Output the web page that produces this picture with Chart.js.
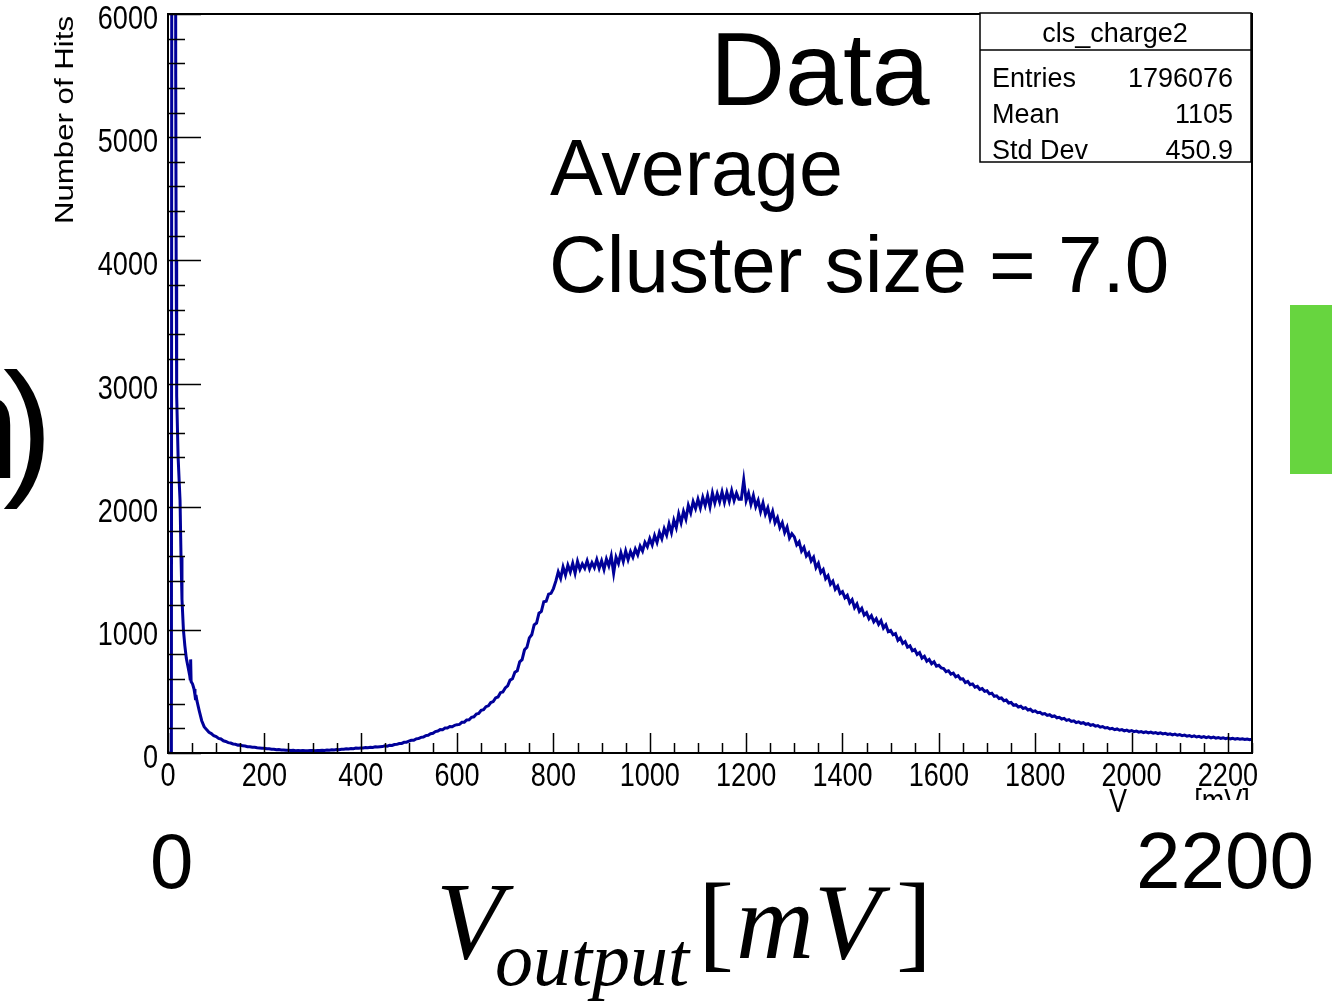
<!DOCTYPE html>
<html>
<head>
<meta charset="utf-8">
<script src="https://cdn.jsdelivr.net/npm/chart.js@4.4.1/dist/chart.umd.min.js"></script>
<style>
  html, body { margin: 0; padding: 0; background: #fff; }
  #plot { display: block; }
</style>
</head>
<body>
<canvas id="plot" width="1332" height="1008"></canvas>
<script>
// pedestal spike at the very start of the spectrum (irregular bin positions, mV)
const spikeMv   = [0, 7, 12, 16, 17, 18, 21, 25, 27, 29, 32, 35, 38, 42, 45, 46, 47, 48, 51, 54, 56, 57, 58]
const spikeHits = [0, 0, 40000, 5500, 4000, 2900, 2400, 2050, 1600, 1250, 1000, 870, 770, 690, 630, 600, 760, 580, 560, 520, 470, 440, 470]

// regular 5 mV bins from 60 mV on
const binStart = 60
const binWidth = 5
const binHits = [
  425, 340, 262, 214, 190, 168, 158, 140,
  // 100 mV
  133, 118, 114, 99, 94, 84, 81, 73, 71, 64, 65, 58, 57, 51, 50, 46, 46, 42, 41, 38,
  // 200 mV
  38, 34, 34, 30, 31, 27, 28, 24, 25, 22, 23, 20, 22, 19, 20, 18, 20, 18, 19, 20,
  // 300 mV
  20, 18, 21, 20, 23, 21, 25, 23, 27, 25, 29, 27, 31, 30, 34, 33, 37, 35, 40, 39,
  // 400 mV
  41, 40, 45, 43, 46, 45, 50, 48, 51, 52, 58, 55, 62, 61, 69, 70, 77, 78, 87, 88,
  // 500 mV
  96, 103, 104, 115, 117, 127, 130, 141, 144, 156, 160, 174, 178, 190, 189, 203, 203, 215, 213, 225,
  // 600 mV
  230, 232, 249, 250, 268, 270, 290, 294, 316, 321, 346, 351, 376, 383, 410, 418, 447, 455, 490, 496,
  // 700 mV
  528, 545, 592, 603, 655, 668, 740, 758, 838, 858, 935, 960, 1040, 1055, 1135, 1150, 1228, 1232, 1290, 1296,
  // 800 mV
  1335, 1395, 1470, 1418, 1510, 1445, 1525, 1470, 1540, 1460, 1555, 1490, 1535, 1500, 1560, 1495, 1545, 1505, 1570, 1500,
  // 900 mV
  1560, 1490, 1575, 1520, 1600, 1460, 1590, 1540, 1625, 1555, 1640, 1570, 1635, 1590, 1655, 1610, 1680, 1640, 1710, 1675,
  // 1000 mV
  1740, 1690, 1765, 1710, 1790, 1740, 1820, 1770, 1860, 1790, 1890, 1830, 1940, 1870, 1960, 1900, 2010, 1950, 2040, 1985,
  // 1100 mV
  2060, 1990, 2075, 2010, 2090, 2000, 2110, 2030, 2105, 2040, 2120, 2035, 2115, 2045, 2130, 2050, 2110, 2060, 2060, 2215,
  // 1200 mV
  2050, 2110, 2020, 2090, 2000, 2050, 1960, 2030, 1940, 1990, 1900, 1960, 1870, 1910, 1830, 1870, 1790, 1835, 1745, 1780,
  // 1300 mV
  1755, 1690, 1715, 1640, 1670, 1600, 1625, 1560, 1590, 1505, 1540, 1465, 1490, 1415, 1440, 1370, 1395, 1330, 1355, 1295,
  // 1400 mV
  1310, 1260, 1280, 1220, 1245, 1180, 1210, 1150, 1175, 1120, 1140, 1090, 1115, 1065, 1090, 1045, 1075, 1015, 1040, 985,
  // 1500 mV
  995, 960, 970, 915, 935, 890, 905, 860, 870, 830, 840, 800, 815, 770, 785, 745, 760, 725, 740, 705,
  // 1600 mV
  712, 690, 685, 660, 668, 640, 648, 618, 628, 600, 602, 572, 582, 555, 561, 535, 542, 516, 523, 500,
  // 1700 mV
  505, 480, 486, 460, 464, 442, 447, 424, 430, 406, 410, 388, 393, 374, 380, 361, 368, 349, 355, 337,
  // 1800 mV
  342, 327, 331, 316, 320, 305, 311, 296, 301, 286, 290, 276, 281, 265, 271, 256, 261, 247, 253, 241,
  // 1900 mV
  246, 233, 238, 225, 230, 218, 223, 210, 215, 203, 207, 195, 200, 189, 195, 185, 190, 180, 186, 176,
  // 2000 mV
  182, 173, 178, 169, 174, 166, 172, 163, 169, 161, 166, 158, 164, 155, 160, 151, 156, 147, 153, 144,
  // 2100 mV
  149, 141, 145, 137, 142, 133, 139, 130, 135, 127, 133, 125, 131, 123, 129, 121, 126, 118, 124, 116,
  // 2200 mV
  121, 115, 119, 113, 117, 112, 115, 110, 114, 108, 111
]

const xRange = [0, 2250]
const yRange = [0, 6000]
const histName = "cls_charge2"
const statLabels = ["Entries", "Mean", "Std Dev"]
const statValues = ["1796076", "1105", "450.9"]

const points = spikeMv.map((x, i) => ({ x: x, y: spikeHits[i] }))
binHits.forEach((h, i) => points.push({ x: binStart + i * binWidth, y: h }))

const sans = "'Liberation Sans', Arial, sans-serif"
const serif = "'Liberation Serif', 'Times New Roman', serif"

// ROOT's labels look squeezed sideways, so they get a horizontal scale
function narrowText(ctx, text, x, y, align) {
  ctx.save()
  ctx.translate(x, y)
  ctx.scale(0.82, 1)
  ctx.textAlign = align
  ctx.fillText(text, 0, 0)
  ctx.restore()
}

// frame, inward ROOT-style ticks, tick labels and all the slide text
const decorations = {
  id: "decorations",
  afterDraw(chart) {
    const ctx = chart.ctx
    const area = chart.chartArea
    const xs = chart.scales.x
    const ys = chart.scales.y
    ctx.save()

    ctx.strokeStyle = "#000"
    ctx.lineWidth = 1.5
    ctx.beginPath()
    for (let v = yRange[0]; v <= yRange[1]; v += 200) {
      const py = Math.round(ys.getPixelForValue(v)) + 0.5
      const len = v % 1000 === 0 ? 33 : 17
      ctx.moveTo(area.left, py)
      ctx.lineTo(area.left + len, py)
    }
    for (let v = xRange[0]; v <= xRange[1]; v += 50) {
      const px = Math.round(xs.getPixelForValue(v)) + 0.5
      const len = v % 200 === 0 ? 20 : 10
      ctx.moveTo(px, area.bottom)
      ctx.lineTo(px, area.bottom - len)
    }
    ctx.stroke()

    ctx.lineWidth = 2
    ctx.strokeRect(area.left, area.top, area.right - area.left, area.bottom - area.top)

    // tick labels, taken from the scales
    ctx.fillStyle = "#000"
    ctx.textBaseline = "alphabetic"
    ctx.font = "33px " + sans
    xs.ticks.forEach(t => narrowText(ctx, String(t.value), xs.getPixelForValue(t.value), area.bottom + 33, "center"))
    ys.ticks.forEach(t => narrowText(ctx, String(t.value), area.left - 10, ys.getPixelForValue(t.value) + 15, "right"))

    // x axis title (cut off by the slide)
    narrowText(ctx, "V", 1118, 812, "center")
    ctx.save()
    ctx.beginPath()
    ctx.rect(1150, 770, 150, 30)
    ctx.clip()
    narrowText(ctx, "[mV]", 1222, 812, "center")
    ctx.restore()

    // y axis title
    ctx.save()
    ctx.translate(73, 120)
    ctx.rotate(-Math.PI / 2)
    ctx.scale(1.2, 1)
    ctx.textAlign = "center"
    ctx.font = "26px " + sans
    ctx.fillText("Number of Hits", 0, 0)
    ctx.restore()

    // stats box
    ctx.fillStyle = "#fff"
    ctx.fillRect(980, 13, 271, 149)
    ctx.lineWidth = 1.5
    ctx.strokeRect(980, 13, 271, 149)
    ctx.beginPath()
    ctx.moveTo(980, 50)
    ctx.lineTo(1251, 50)
    ctx.stroke()
    ctx.fillStyle = "#000"
    ctx.font = "27px " + sans
    ctx.textAlign = "center"
    ctx.fillText(histName, 1115, 42)
    const rowBase = [87, 123, 159]
    statLabels.forEach((lab, i) => {
      ctx.textAlign = "left"
      ctx.fillText(lab, 992, rowBase[i])
      ctx.textAlign = "right"
      ctx.fillText(statValues[i], 1233, rowBase[i])
    })

    // slide annotations
    ctx.textAlign = "left"
    ctx.font = "104px " + sans
    ctx.fillText("Data", 710, 105)
    ctx.font = "79px " + sans
    ctx.fillText("Average", 550, 195)
    ctx.font = "80px " + sans
    ctx.fillText("Cluster size = 7.0", 549, 292)

    // leftover of a neighbouring slide label
    ctx.font = "150px " + sans
    ctx.textAlign = "right"
    ctx.fillText("n", 20, 478)
    ctx.textAlign = "left"
    ctx.fillText(")", 3, 478)

    ctx.font = "78px " + sans
    ctx.fillText("0", 150, 888)
    ctx.font = "80px " + sans
    ctx.textAlign = "right"
    ctx.fillText("2200", 1314, 888)

    ctx.textAlign = "left"
    ctx.font = "italic 110px " + serif
    ctx.fillText("V", 436, 958)
    ctx.font = "italic 76px " + serif
    ctx.fillText("output", 495, 985)
    ctx.font = "108px " + serif
    ctx.fillText("[", 698, 958)
    let cx = 698 + ctx.measureText("[").width + 2
    ctx.font = "italic 108px " + serif
    ctx.fillText("mV", cx, 958)
    cx += ctx.measureText("mV").width + 16
    ctx.font = "108px " + serif
    ctx.fillText("]", cx, 958)

    ctx.fillStyle = "#67D53F"
    ctx.fillRect(1290, 305, 42, 169)
    ctx.restore()
  }
}

new Chart(document.getElementById("plot"), {
  type: "line",
  data: {
    datasets: [{
      label: histName,
      data: points,
      borderColor: "#000099",
      borderWidth: 3,
      pointRadius: 0,
      tension: 0,
      fill: false
    }]
  },
  options: {
    responsive: false,
    animation: false,
    layout: { padding: { top: 14, right: 80, left: 0, bottom: 0 } },
    plugins: {
      legend: { display: false },
      tooltip: { enabled: false }
    },
    scales: {
      x: {
        type: "linear",
        min: xRange[0],
        max: xRange[1],
        grid: { display: false, drawTicks: false },
        border: { display: false },
        ticks: { display: false, stepSize: 200, includeBounds: false },
        afterFit(s) {
          s.height = 255
          s.paddingLeft = 0
          s.paddingRight = 0
        }
      },
      y: {
        min: yRange[0],
        max: yRange[1],
        grid: { display: false, drawTicks: false },
        border: { display: false },
        ticks: { display: false, stepSize: 1000 },
        afterFit(s) {
          s.width = 168
          s.paddingTop = 0
          s.paddingBottom = 0
        }
      }
    }
  },
  plugins: [decorations]
})
</script>
</body>
</html>
